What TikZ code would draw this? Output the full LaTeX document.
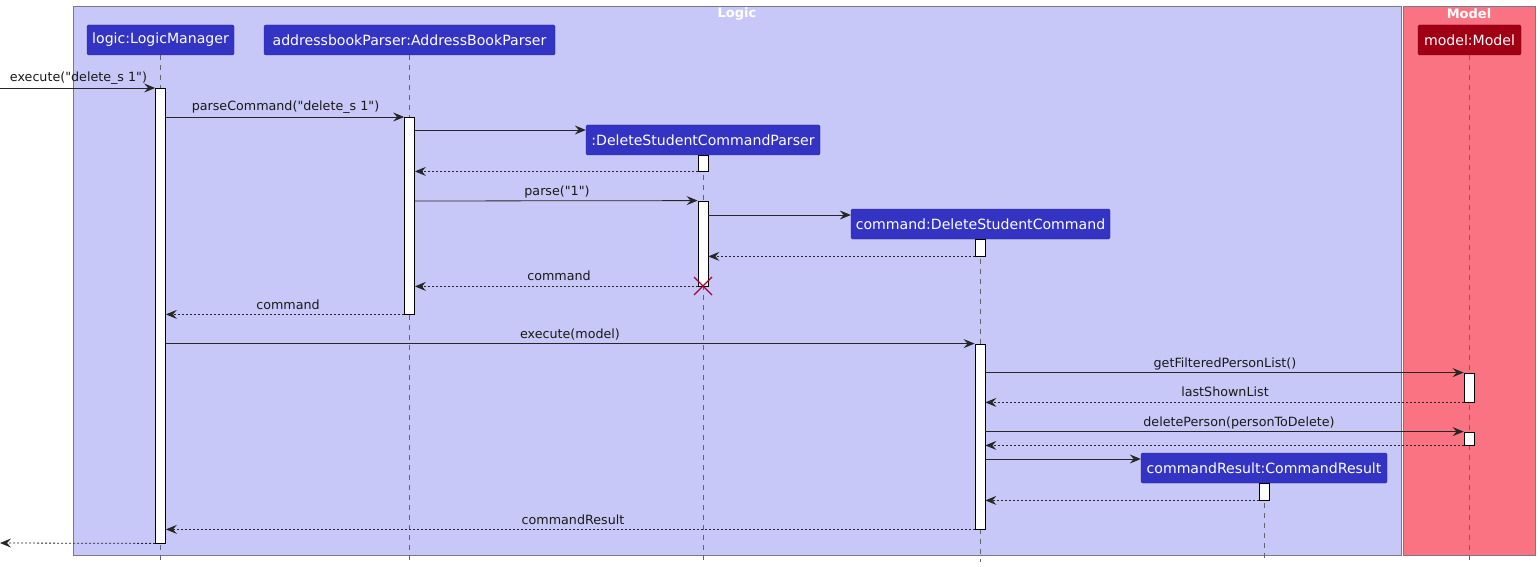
\documentclass[tikz,border=0pt]{standalone}
\usepackage{fontspec}
\setmainfont{DejaVu Sans}[Ligatures=TeXOff]
\usetikzlibrary{arrows.meta}
\definecolor{logicbg}{RGB}{200,200,248}
\definecolor{modelbg}{RGB}{250,115,130}
\definecolor{partblue}{RGB}{51,51,196}
\definecolor{partred}{RGB}{160,0,20}
\definecolor{framegray}{RGB}{120,120,136}
\definecolor{xred}{RGB}{168,0,54}
\definecolor{lifegray}{RGB}{100,100,110}
\newcommand{\dq}{\symbol{34}}
\begin{document}
\begin{tikzpicture}[x=1pt,y=-1pt,
  part/.style={rectangle,rounded corners=1.5pt,draw=partblue!70!black,fill=partblue,text=white,
    font=\fontsize{14.1}{16}\selectfont,inner sep=0pt,minimum height=30pt},
  partm/.style={part,fill=partred,draw=partred!70!black},
  frametitle/.style={text=white,font=\fontsize{13}{15}\selectfont\bfseries,inner sep=0pt},
  life/.style={draw=lifegray,dash pattern=on 5pt off 5pt,line width=0.6pt},
  act/.style={rectangle,draw=black,fill=white,line width=0.8pt,inner sep=0pt,minimum width=10pt},
  msg/.style={draw=black!85,line width=0.8pt,-{Stealth[length=11pt,width=9pt,inset=4pt]}},
  ret/.style={msg,dash pattern=on 2pt off 2pt},
  lbl/.style={font=\fontsize{12.7}{15}\selectfont,inner sep=0pt,anchor=base,text=black!90}
]
\useasboundingbox (0,0) rectangle (1540,567);
% frames
\node[rectangle,draw=framegray,fill=logicbg,line width=0.8pt,minimum width=1328pt,minimum height=549pt,inner sep=0pt] (logicbox) at (737,280.5) {};
\node[rectangle,draw=framegray,fill=modelbg,line width=0.8pt,minimum width=132pt,minimum height=549pt,inner sep=0pt] (modelbox) at (1469,280.5) {};
\node[frametitle] (logictitle) at (737,14) {Logic};
\node[frametitle] (modeltitle) at (1469,14) {Model};
% participants
\node[part,minimum width=147pt] (lm) at (160.5,40) {logic:LogicManager};
\node[part,minimum width=291pt] (abp) at (409.5,40) {addressbookParser:AddressBookParser};
\node[part,minimum width=234pt] (dscp) at (703,140) {:DeleteStudentCommandParser};
\node[part,minimum width=259pt] (dsc) at (980.5,224) {command:DeleteStudentCommand};
\node[part,minimum width=246pt] (cr) at (1264,468) {commandResult:CommandResult};
\node[partm,minimum width=103pt] (mdl) at (1469.5,40) {model:Model};
% lifelines
\coordinate (lmend) at (160,562);
\coordinate (abpend) at (409,562);
\coordinate (dscpend) at (703,562);
\coordinate (dscend) at (980,562);
\coordinate (crend) at (1264,562);
\coordinate (mdlend) at (1469,562);
\draw[life] (lm.south -| lmend) -- (lmend);
\draw[life] (abp.south -| abpend) -- (abpend);
\draw[life] (dscp.south -| dscpend) -- (dscpend);
\draw[life] (dsc.south -| dscend) -- (dscend);
\draw[life] (cr.south -| crend) -- (crend);
\draw[life] (mdl.south -| mdlend) -- (mdlend);
% activations
\node[act,minimum height=455pt] (a1) at (160.5,315.5) {};
\node[act,minimum height=197pt] (a2) at (409.5,215.5) {};
\node[act,minimum height=16pt] (a3) at (703,163) {};
\node[act,minimum height=85pt] (a4) at (703,243.5) {};
\node[act,minimum height=17pt] (a5) at (980,247.5) {};
\node[act,minimum height=185pt] (a6) at (980,436.5) {};
\node[act,minimum height=29pt] (a7) at (1469,387.5) {};
\node[act,minimum height=13pt] (a8) at (1469,438.5) {};
\node[act,minimum height=17pt] (a9) at (1264,491.5) {};
% messages
\coordinate (in) at (0,88);
\coordinate (out) at (0,543);
\draw[msg] (in) -- (in -| a1.west);
\node[lbl] (l1) at (78.5,82) {execute(\dq delete\_s 1\dq)};
\draw[msg] (a1.east |- 0,117) -- (a2.west |- 0,117);
\node[lbl] (l2) at (285.5,111) {parseCommand(\dq delete\_s 1\dq)};
\draw[msg] (a2.east |- 0,130) -- (dscp.west |- 0,130);
\draw[ret] (a3.south west) -- (a2.east |- a3.south);
\draw[msg] (a2.east |- 0,201) -- (a4.north west);
\node[lbl] (l3) at (557,195) {parse(\dq 1\dq)};
\draw[msg] (a4.east |- 0,215) -- (dsc.west |- 0,215);
\draw[ret] (a5.south west) -- (a4.east |- a5.south);
\draw[ret] (a4.south west) -- (a2.east |- a4.south);
\node[lbl] (l4) at (559,280) {command};
\draw[xred,line width=1.2pt] (694,277) -- (712,295) (712,277) -- (694,295);
\draw[ret] (a2.south west) -- (a1.east |- a2.south);
\node[lbl] (l5) at (288,309) {command};
\draw[msg] (a1.east |- a6.north) -- (a6.north west);
\node[lbl] (l6) at (570,338) {execute(model)};
\draw[msg] (a6.east |- a7.north) -- (a7.north west);
\node[lbl] (l7) at (1225,367) {getFilteredPersonList()};
\draw[ret] (a7.south west) -- (a6.east |- a7.south);
\node[lbl] (l8) at (1225,396) {lastShownList};
\draw[msg] (a6.east |- a8.north) -- (a8.north west);
\node[lbl] (l9) at (1239,426) {deletePerson(personToDelete)};
\draw[ret] (a8.south west) -- (a6.east |- a8.south);
\draw[msg] (a6.east |- 0,459) -- (cr.west |- 0,459);
\draw[ret] (a9.south west) -- (a6.east |- a9.south);
\draw[ret] (a6.south west) -- (a1.east |- a6.south);
\node[lbl] (l10) at (573,524) {commandResult};
\draw[ret] (a1.south west) -- (out);
\end{tikzpicture}
\end{document}
